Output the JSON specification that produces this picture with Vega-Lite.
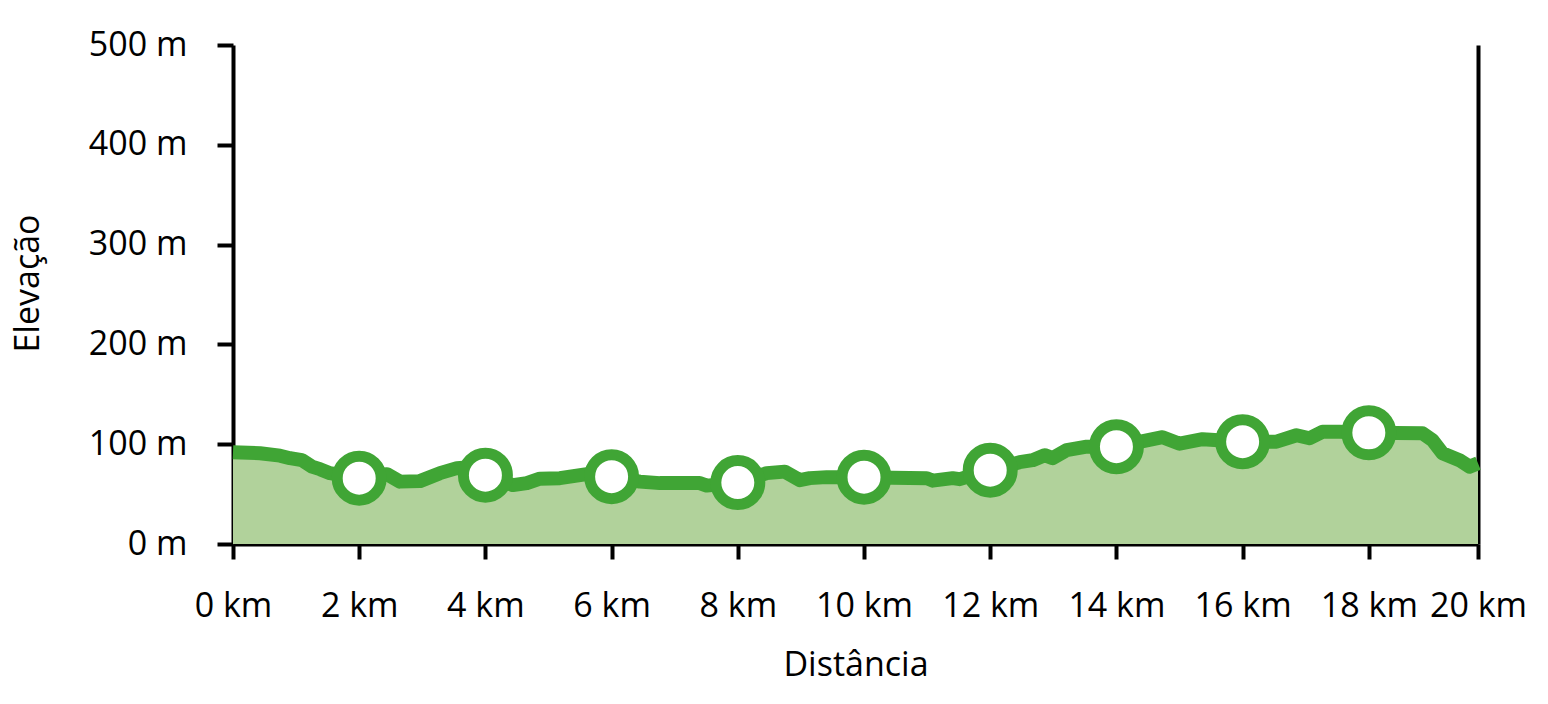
{
  "$schema": "https://vega.github.io/schema/vega-lite/v6.json",
  "autosize": {"type": "none"},
  "padding": {"left": 233, "top": 45, "right": 70, "bottom": 160},
  "width": 1245,
  "height": 499,
  "background": "white",
  "config": {
    "view": {"stroke": null},
    "font": "Open Sans",
    "axis": {
      "domainColor": "black", "tickColor": "black", "labelColor": "black", "titleColor": "black",
      "domainWidth": 4, "tickWidth": 4, "grid": false,
      "labelFont": "Open Sans", "titleFont": "Open Sans",
      "labelFontSize": 34, "titleFontSize": 34, "titleFontWeight": "normal"
    }
  },
  "datasets": {
    "profile": [
      {"km": 0, "elev": 92}, {"km": 0.428, "elev": 91}, {"km": 0.745, "elev": 88.5}, {"km": 0.903, "elev": 86},
      {"km": 1.093, "elev": 84}, {"km": 1.251, "elev": 77.5}, {"km": 1.378, "elev": 75}, {"km": 1.537, "elev": 71},
      {"km": 2.0, "elev": 66}, {"km": 2.439, "elev": 70}, {"km": 2.645, "elev": 62.5}, {"km": 2.962, "elev": 63},
      {"km": 3.279, "elev": 71}, {"km": 3.548, "elev": 76}, {"km": 3.754, "elev": 77}, {"km": 4.0, "elev": 69},
      {"km": 4.435, "elev": 59}, {"km": 4.657, "elev": 61}, {"km": 4.863, "elev": 65.5}, {"km": 5.18, "elev": 66},
      {"km": 5.607, "elev": 70}, {"km": 6.0, "elev": 67.5}, {"km": 6.447, "elev": 62.5}, {"km": 6.764, "elev": 61},
      {"km": 7.397, "elev": 61}, {"km": 7.508, "elev": 58.5}, {"km": 8.0, "elev": 61.5}, {"km": 8.459, "elev": 71},
      {"km": 8.744, "elev": 72.5}, {"km": 8.982, "elev": 64}, {"km": 9.14, "elev": 66}, {"km": 9.409, "elev": 67},
      {"km": 10.0, "elev": 67}, {"km": 10.455, "elev": 66.5}, {"km": 10.993, "elev": 66}, {"km": 11.088, "elev": 63.5},
      {"km": 11.405, "elev": 66}, {"km": 11.516, "elev": 65}, {"km": 12.0, "elev": 74}, {"km": 12.466, "elev": 82},
      {"km": 12.672, "elev": 84}, {"km": 12.862, "elev": 89}, {"km": 12.989, "elev": 86}, {"km": 13.211, "elev": 94},
      {"km": 13.528, "elev": 97.5}, {"km": 14.0, "elev": 97.5}, {"km": 14.731, "elev": 107}, {"km": 15.001, "elev": 100.5},
      {"km": 15.365, "elev": 105}, {"km": 16.0, "elev": 102.5}, {"km": 16.537, "elev": 102.5}, {"km": 16.854, "elev": 109},
      {"km": 17.06, "elev": 106}, {"km": 17.266, "elev": 112.5}, {"km": 17.535, "elev": 112.5}, {"km": 18.0, "elev": 111.5},
      {"km": 18.85, "elev": 111}, {"km": 19.009, "elev": 104}, {"km": 19.167, "elev": 91}, {"km": 19.436, "elev": 84},
      {"km": 19.595, "elev": 77.5}, {"km": 19.73, "elev": 81}
    ],
    "markers": [
      {"km": 2, "elev": 66}, {"km": 4, "elev": 69}, {"km": 6, "elev": 67.5}, {"km": 8, "elev": 61.5},
      {"km": 10, "elev": 67}, {"km": 12, "elev": 74}, {"km": 14, "elev": 97.5}, {"km": 16, "elev": 102.5},
      {"km": 18, "elev": 111.5}
    ]
  },
  "resolve": {"axis": {"y": "independent"}},
  "layer": [
    {
      "data": {"name": "profile"},
      "mark": {"type": "area", "color": "#b1d29b"},
      "encoding": {
        "x": {"field": "km", "type": "quantitative",
          "scale": {"domain": [0, 19.73], "nice": false, "zero": false},
          "axis": {"values": [0, 2, 4, 6, 8, 10, 12, 14, 16, 18, 19.73], "labelExpr": "round(datum.value) + ' km'",
            "tickSize": 15, "labelPadding": 30, "labelBaseline": "top", "labelFlush": false,
            "title": "Distância", "titleY": 121, "titleBaseline": "middle"}},
        "y": {"field": "elev", "type": "quantitative",
          "scale": {"domain": [0, 500], "nice": false},
          "axis": {"values": [0, 100, 200, 300, 400, 500], "labelExpr": "datum.value + ' m'",
            "tickSize": 16, "labelPadding": 30, "labelBaseline": "middle", "labelFlush": false,
            "title": "Elevação", "titleX": -205, "titleY": 238, "titleAngle": -90,
            "titleAlign": "center", "titleBaseline": "middle"}}
      }
    },
    {
      "data": {"name": "profile"},
      "mark": {"type": "line", "color": "#40a535", "strokeWidth": 14, "strokeJoin": "round", "strokeCap": "butt"},
      "encoding": {
        "x": {"field": "km", "type": "quantitative"},
        "y": {"field": "elev", "type": "quantitative",
          "axis": {"orient": "right", "labels": false, "ticks": false, "title": null, "domainWidth": 4, "domainColor": "black"}}
      }
    },
    {
      "data": {"name": "markers"},
      "mark": {"type": "point", "shape": "circle", "filled": false, "fill": "white", "fillOpacity": 1,
        "stroke": "#40a535", "strokeWidth": 11, "size": 1936, "opacity": 1},
      "encoding": {
        "x": {"field": "km", "type": "quantitative"},
        "y": {"field": "elev", "type": "quantitative", "axis": null}
      }
    }
  ]
}
